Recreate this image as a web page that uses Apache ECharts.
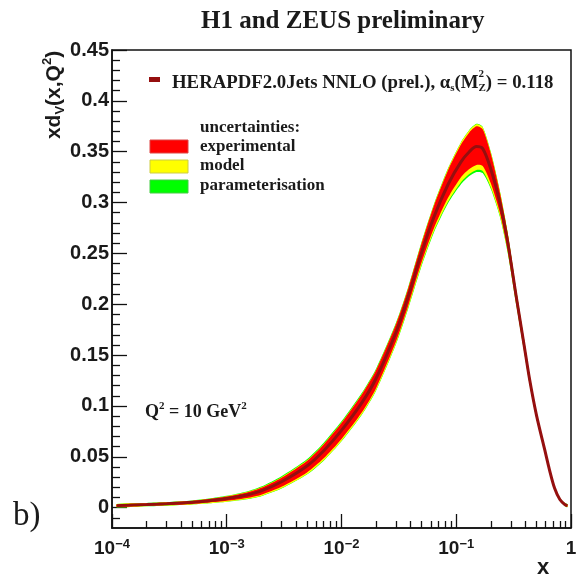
<!DOCTYPE html>
<html>
<head>
<meta charset="utf-8">
<script src="https://cdn.jsdelivr.net/npm/echarts@6/dist/echarts.min.js"></script>
<style>
  html, body { margin: 0; padding: 0; background: #fff; }
  #chart { width: 583px; height: 587px; }
</style>
</head>
<body>
<div id="chart"></div>
<script>
// Valence d-quark distribution x·d_v(x, Q²) at Q² = 10 GeV²
const xs = [1.1e-4, 2e-4, 3e-4, 5e-4, 7e-4, 1e-3, 1.5e-3, 2e-3, 3e-3, 5e-3, 7e-3, 1e-2,
            1.5e-2, 2e-2, 3e-2, 3.8e-2, 4.9e-2, 6.4e-2, 8.5e-2, 0.11, 0.13, 0.15, 0.17,
            0.2, 0.24, 0.28, 0.336, 0.39, 0.436, 0.5, 0.59, 0.65, 0.72, 0.8, 0.885, 0.93];

// central fit
const central = [0.0020, 0.0030, 0.0038, 0.0052, 0.0068, 0.0090, 0.0125, 0.0165, 0.0255, 0.041, 0.056, 0.076,
                 0.103, 0.127, 0.173, 0.207, 0.248, 0.286, 0.318, 0.340, 0.350, 0.355, 0.353,
                 0.333, 0.300, 0.262, 0.205, 0.160, 0.126, 0.091, 0.057, 0.037, 0.019, 0.008, 0.003, 0.002];

// experimental uncertainty (up / down)
const expUp = [0.0012, 0.0012, 0.0013, 0.0014, 0.0016, 0.0019, 0.0024, 0.003, 0.004, 0.005, 0.0062, 0.0072,
               0.008, 0.008, 0.008, 0.008, 0.009, 0.011, 0.014, 0.017, 0.019, 0.020, 0.019,
               0.015, 0.010, 0.008, 0.006, 0.005, 0.004, 0.003, 0.002, 0.0015, 0.001, 0.001, 0.001, 0.001];
const expDn = [0.0012, 0.0012, 0.0013, 0.0015, 0.0018, 0.0023, 0.003, 0.0038, 0.005, 0.0064, 0.0075, 0.0085,
               0.0095, 0.0095, 0.009, 0.009, 0.0095, 0.011, 0.013, 0.015, 0.017, 0.018, 0.017,
               0.014, 0.010, 0.008, 0.006, 0.005, 0.004, 0.003, 0.002, 0.0015, 0.001, 0.001, 0.001, 0.001];

// additional model uncertainty beyond the experimental band
const modUp = [0.0003, 0.0003, 0.0003, 0.0003, 0.0003, 0.0004, 0.0005, 0.0005, 0.0005, 0.0005, 0.0005, 0.0005,
               0.0005, 0.0005, 0.0005, 0.0005, 0.0008, 0.001, 0.0015, 0.002, 0.002, 0.002, 0.002,
               0.0015, 0.001, 0.0008, 0.0005, 0.0005, 0.0005, 0.0005, 0.0003, 0.0003, 0.0003, 0.0003, 0.0003, 0.0003];
const modDn = [0.0003, 0.0003, 0.0004, 0.0005, 0.0006, 0.0008, 0.001, 0.0012, 0.0015, 0.0018, 0.002, 0.002,
               0.002, 0.002, 0.002, 0.002, 0.0025, 0.003, 0.004, 0.005, 0.005, 0.005, 0.005,
               0.004, 0.003, 0.002, 0.0015, 0.001, 0.0008, 0.0005, 0.0004, 0.0003, 0.0003, 0.0003, 0.0003, 0.0003];

// additional parameterisation uncertainty beyond model
const parUp = [0.0001, 0.0001, 0.0001, 0.0002, 0.0003, 0.0004, 0.0006, 0.0008, 0.001, 0.0012, 0.0012, 0.0012,
               0.0012, 0.0012, 0.001, 0.0008, 0.0006, 0.0005, 0.0004, 0.0004, 0.0004, 0.0004, 0.0004,
               0.0004, 0.0004, 0.0004, 0.0004, 0.0004, 0.0003, 0.0003, 0.0002, 0.0002, 0.0002, 0.0002, 0.0002, 0.0002];
const parDn = [0.0001, 0.0001, 0.0001, 0.0001, 0.0001, 0.0001, 0.0002, 0.0002, 0.0002, 0.0002, 0.0003, 0.0003,
               0.0004, 0.0005, 0.0006, 0.0008, 0.001, 0.0012, 0.0015, 0.002, 0.002, 0.002, 0.002,
               0.0015, 0.001, 0.0008, 0.0005, 0.0005, 0.0004, 0.0003, 0.0002, 0.0002, 0.0002, 0.0002, 0.0002, 0.0002];

// axis ticks
const xMajor = [1e-4, 1e-3, 1e-2, 1e-1, 1];
const xMajorExp = ['−4', '−3', '−2', '−1', ''];
const xMinor = [];
[1e-4, 1e-3, 1e-2, 1e-1].forEach(d => { for (let k = 2; k <= 9; k++) xMinor.push(+(d * k).toPrecision(3)); });
const yMajor = [0, 0.05, 0.1, 0.15, 0.2, 0.25, 0.3, 0.35, 0.4, 0.45];
const yMinor = [-0.01, 0.01, 0.02, 0.03, 0.04, 0.06, 0.07, 0.08, 0.09, 0.11, 0.12, 0.13, 0.14,
                0.16, 0.17, 0.18, 0.19, 0.21, 0.22, 0.23, 0.24, 0.26, 0.27, 0.28, 0.29,
                0.31, 0.32, 0.33, 0.34, 0.36, 0.37, 0.38, 0.39, 0.41, 0.42, 0.43, 0.44];

// cumulative band edges
const expHi = central.map((c, i) => c + expUp[i]);
const expLo = central.map((c, i) => c - expDn[i]);
const modHi = expHi.map((v, i) => v + modUp[i]);
const modLo = expLo.map((v, i) => v - modDn[i]);
const parHi = modHi.map((v, i) => v + parUp[i]);
const parLo = modLo.map((v, i) => v - parDn[i]);

const SANS = '"Liberation Sans", Arial, sans-serif';
const SERIF = '"Liberation Serif", "Times New Roman", serif';
const INK = '#1a1a1a';

// legend line: locate the M_Z superscript above the subscript
const LEG_X = 172, LEG_FS = 18.8, LEG_SUB = 11;
const measure = (() => {
  const ctx = document.createElement('canvas').getContext('2d');
  return (txt, font) => { ctx.font = font; return ctx.measureText(txt).width; };
})();
const supX = LEG_X
  + measure('HERAPDF2.0Jets NNLO (prel.), α', 'bold ' + LEG_FS + 'px ' + SERIF)
  + measure('s', 'bold ' + LEG_SUB + 'px ' + SERIF)
  + measure('(M', 'bold ' + LEG_FS + 'px ' + SERIF);

function bandSeries(name, lo, hi, color, z) {
  return {
    type: 'custom',
    name: name,
    xAxisIndex: 0, yAxisIndex: 0,
    z: z,
    silent: true,
    data: xs.map((x, i) => [x, lo[i], hi[i]]),
    encode: { x: 0, y: [1, 2] },
    renderItem: function (params, api) {
      if (params.dataIndexInside !== 0) return null;
      const n = params.dataInsideLength;
      const upper = [], lower = [];
      for (let i = 0; i < n; i++) {
        const xv = api.value(0, i);
        upper.push(api.coord([xv, api.value(2, i)]));
        lower.push(api.coord([xv, api.value(1, i)]));
      }
      return {
        type: 'polygon',
        shape: { points: upper.concat(lower.reverse()), smooth: 0.25 },
        style: { fill: color, stroke: null }
      };
    }
  };
}

const chart = echarts.init(document.getElementById('chart'), null, { renderer: 'canvas' });

chart.setOption({
  animation: false,
  backgroundColor: '#fff',
  title: {
    text: 'H1 and ZEUS preliminary',
    left: 196, top: 4,
    textStyle: { fontFamily: SERIF, fontWeight: 'bold', fontSize: 25, color: INK }
  },
  grid: {
    left: 112, top: 50, right: 12, bottom: 59,
    show: true, borderColor: '#111', borderWidth: 1.5, backgroundColor: 'transparent'
  },
  xAxis: [
    {
      type: 'log', logBase: 10, min: 1e-4, max: 1, position: 'bottom',
      axisLine: { show: true, onZero: false, lineStyle: { color: '#111', width: 1.5 } },
      axisTick: { show: true, inside: true, length: 14, customValues: xMajor, lineStyle: { color: '#111', width: 1.3 } },
      minorTick: { show: false },
      splitLine: { show: false },
      axisLabel: {
        customValues: xMajor,
        margin: 10,
        formatter: function (v) {
          const i = xMajor.findIndex(m => Math.abs(Math.log10(m) - Math.log10(v)) < 1e-6);
          if (i < 0) return '';
          if (xMajorExp[i] === '') return '{b|1}';
          return '{b|10}{sup|' + xMajorExp[i] + '}';
        },
        rich: {
          b: { fontFamily: SANS, fontWeight: 'bold', fontSize: 19, color: INK, lineHeight: 22 },
          sup: { fontFamily: SANS, fontWeight: 'bold', fontSize: 13, color: INK, verticalAlign: 'top', lineHeight: 13 }
        }
      }
    },
    {
      type: 'log', logBase: 10, min: 1e-4, max: 1, position: 'bottom',
      axisLine: { show: false, onZero: false },
      axisTick: { show: true, inside: true, length: 7, customValues: xMinor, lineStyle: { color: '#111', width: 1.3 } },
      axisLabel: { show: false },
      splitLine: { show: false }
    }
  ],
  yAxis: [
    {
      type: 'value', min: -0.02, max: 0.45, position: 'left',
      axisLine: { show: true, onZero: false, lineStyle: { color: '#111', width: 1.5 } },
      axisTick: { show: true, inside: true, length: 15, customValues: yMajor, lineStyle: { color: '#111', width: 1.3 } },
      splitLine: { show: false },
      axisLabel: {
        customValues: yMajor,
        margin: 3,
        fontFamily: SANS, fontWeight: 'bold', fontSize: 20, color: INK
      }
    },
    {
      type: 'value', min: -0.02, max: 0.45, position: 'left',
      axisLine: { show: false, onZero: false },
      axisTick: { show: true, inside: true, length: 8, customValues: yMinor, lineStyle: { color: '#111', width: 1.3 } },
      splitLine: { show: false },
      axisLabel: { show: false }
    }
  ],
  series: [
    bandSeries('parameterisation', parLo, parHi, '#00ff00', 1),
    bandSeries('model', modLo, modHi, '#ffff00', 2),
    bandSeries('experimental', expLo, expHi, '#ff0000', 3),
    {
      type: 'line', name: 'HERAPDF2.0Jets NNLO',
      xAxisIndex: 0, yAxisIndex: 0, z: 4,
      data: xs.map((x, i) => [x, central[i]]),
      smooth: 0.3, symbol: 'none', silent: true,
      lineStyle: { color: '#950f0f', width: 3 }
    }
  ],
  graphic: [
    // y-axis title
    {
      type: 'text', x: 54, y: 95, rotation: Math.PI / 2,
      style: {
        text: '{b|xd}{sub|V}{b|(x,Q}{sup|2}{b|)}',
        align: 'center', verticalAlign: 'middle',
        rich: {
          b: { fontFamily: SANS, fontWeight: 'bold', fontSize: 21, fill: INK, lineHeight: 26 },
          sub: { fontFamily: SANS, fontWeight: 'bold', fontSize: 13, fill: INK, verticalAlign: 'bottom', lineHeight: 13 },
          sup: { fontFamily: SANS, fontWeight: 'bold', fontSize: 13, fill: INK, verticalAlign: 'top', lineHeight: 13 }
        }
      }
    },
    // x-axis title
    {
      type: 'text', x: 543, y: 568,
      style: { text: 'x', align: 'center', verticalAlign: 'middle', font: 'bold 22px ' + SANS, fill: INK }
    },
    // central-fit legend entry
    { type: 'rect', shape: { x: 149, y: 77, width: 11, height: 5 }, style: { fill: '#950f0f' } },
    {
      type: 'text', x: LEG_X, y: 83,
      style: {
        text: '{t|HERAPDF2.0Jets NNLO (prel.), α}{s|s}{t|(M}{s|Z}{t|) = 0.118}',
        verticalAlign: 'middle',
        rich: {
          t: { fontFamily: SERIF, fontWeight: 'bold', fontSize: LEG_FS, fill: INK, lineHeight: 22 },
          s: { fontFamily: SERIF, fontWeight: 'bold', fontSize: LEG_SUB, fill: INK, verticalAlign: 'bottom', lineHeight: 11 }
        }
      }
    },
    {
      type: 'text', x: supX, y: 74,
      style: { text: '2', verticalAlign: 'middle', font: 'bold ' + LEG_SUB + 'px ' + SERIF, fill: INK }
    },
    // uncertainty legend
    {
      type: 'text', x: 200, y: 128,
      style: { text: 'uncertainties:', verticalAlign: 'middle', font: 'bold 17px ' + SERIF, fill: INK }
    },
    { type: 'rect', shape: { x: 150, y: 140, width: 38, height: 13 }, style: { fill: '#ff0000', stroke: '#d44', lineWidth: 1 } },
    {
      type: 'text', x: 200, y: 147,
      style: { text: 'experimental', verticalAlign: 'middle', font: 'bold 17px ' + SERIF, fill: INK }
    },
    { type: 'rect', shape: { x: 150, y: 160, width: 38, height: 13 }, style: { fill: '#ffff00', stroke: '#cc4', lineWidth: 1 } },
    {
      type: 'text', x: 200, y: 166,
      style: { text: 'model', verticalAlign: 'middle', font: 'bold 17px ' + SERIF, fill: INK }
    },
    { type: 'rect', shape: { x: 150, y: 180, width: 38, height: 13 }, style: { fill: '#00ff00', stroke: '#4c4', lineWidth: 1 } },
    {
      type: 'text', x: 200, y: 186,
      style: { text: 'parameterisation', verticalAlign: 'middle', font: 'bold 17px ' + SERIF, fill: INK }
    },
    // scale annotation
    {
      type: 'text', x: 145, y: 412,
      style: {
        text: '{t|Q}{sup|2}{t| = 10 GeV}{sup|2}',
        verticalAlign: 'middle',
        rich: {
          t: { fontFamily: SERIF, fontWeight: 'bold', fontSize: 18, fill: INK, lineHeight: 22 },
          sup: { fontFamily: SERIF, fontWeight: 'bold', fontSize: 11, fill: INK, verticalAlign: 'top', lineHeight: 11 }
        }
      }
    },
    // panel label
    {
      type: 'text', x: 13, y: 516,
      style: { text: 'b)', verticalAlign: 'middle', font: '33px ' + SERIF, fill: INK }
    }
  ]
});
</script>
</body>
</html>
